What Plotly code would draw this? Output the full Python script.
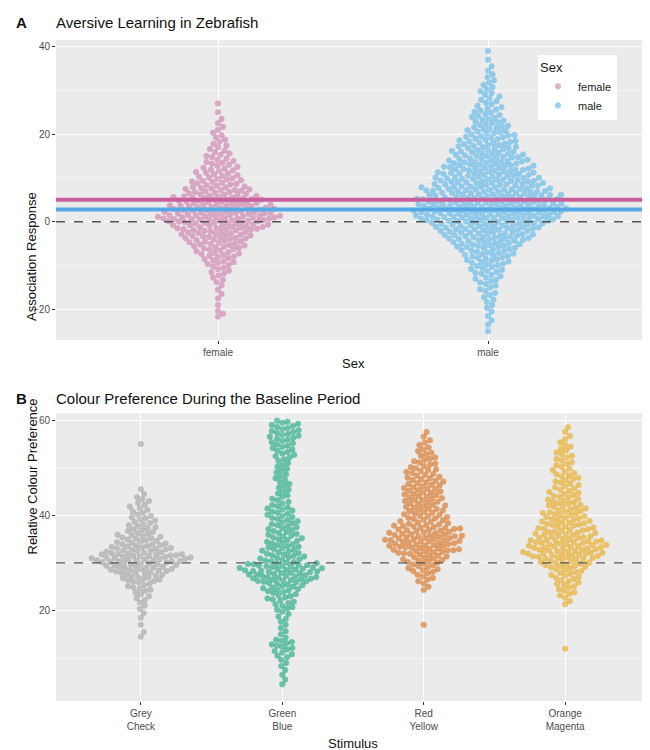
import plotly.graph_objects as go
import numpy as np

# ---- data (bin centre: count; bin width 2) ----
female_bins = [27,25,23,21,19,17,15,13,11,9,7,5,3,1,-1,-3,-5,-7,-9,-11,-13,-15,-17,-19,-21]
female_counts = [1,1,2,3,4,5,7,9,11,14,18,24,28,34,26,20,16,12,9,6,4,2,2,1,3]
male_bins = [39,37,35,33,31,29,27,25,23,21,19,17,15,13,11,9,7,5,3,1,-1,-3,-5,-7,-9,-11,-13,-15,-17,-19,-21,-23,-25]
male_counts = [1,1,2,3,4,5,6,8,10,12,15,17,20,24,27,30,34,38,42,40,30,25,20,15,12,9,7,5,4,3,2,2,1]
sex_means = {"female": 5.0, "male": 2.8}

stimuli = ["Grey<br>Check", "Green<br>Blue", "Red<br>Yellow", "Orange<br>Magenta"]
grey_bins = [55,45,43,41,39,37,35,33,31,29,27,25,23,21,19,17,15]
grey_counts = [1,2,5,6,8,10,14,20,30,22,14,8,5,3,2,1,2]
green_bins = [59,57,55,53,51,49,47,45,43,41,39,37,35,33,31,29,27,25,23,21,19,17,15,13,11,9,7,5]
green_counts = [9,10,8,7,5,5,5,5,6,9,9,10,11,12,14,24,22,13,9,7,4,3,3,8,6,3,2,2]
red_bins = [57,55,53,51,49,47,45,43,41,39,37,35,33,31,29,27,25,17]
red_counts = [2,4,6,8,10,12,13,13,13,14,20,24,22,14,10,6,3,1]
orange_bins = [58,56,54,52,50,48,46,44,42,40,38,36,34,32,30,28,26,24,22,12]
orange_counts = [2,3,5,6,6,8,8,10,12,14,16,18,24,24,16,10,8,6,3,1]

def expand(bins, counts, w=2.0):
    vals = []
    for b, c in zip(bins, counts):
        for i in range(c):
            vals.append(b - w/2 + (i + 0.5) * w / c if c > 1 else b)
    return np.array(vals)

def swarm(vals, ypx, xpx, d=5.6):
    order = np.argsort(vals)
    placed = []
    offs = np.zeros(len(vals))
    for idx in order:
        y = vals[idx] * ypx
        k = 0
        while True:
            cand = [0.0] if k == 0 else [k*0.5, -k*0.5]
            ok_c = None
            for c in cand:
                if all((c-px)**2 + (y-py)**2 >= d*d for px, py in placed if abs(y-py) < d):
                    ok_c = c; break
            if ok_c is not None:
                placed.append((ok_c, y)); offs[idx] = ok_c / xpx; break
            k += 1
    return offs

fig = go.Figure()
GRID = "white"; BG = "#EBEBEB"

colsA = {"female": "#CC79A7", "male": "#56B4E9"}
ypxA = 300/68.5; xpxA = 270.0
for i, (name, bins, counts) in enumerate([("female", female_bins, female_counts), ("male", male_bins, male_counts)]):
    v = expand(bins, counts)
    x = i + 1 + swarm(v, ypxA, xpxA)
    fig.add_trace(go.Scatter(x=x, y=v, mode="markers", name=name, xaxis="x", yaxis="y",
        marker=dict(size=5.5, color=colsA[name], opacity=0.6, line=dict(width=0.7, color=colsA[name]))))
for name in ["female", "male"]:
    fig.add_shape(type="line", xref="x domain", yref="y", x0=0, x1=1, y0=sex_means[name], y1=sex_means[name],
                  line=dict(color="#56A9E6" if name == "male" else "#C8609C", width=4))
fig.add_shape(type="line", xref="x domain", yref="y", x0=0, x1=1, y0=0, y1=0, line=dict(color="#555", width=1.3, dash="dash"))

colsB = ["#999999", "#009E73", "#D55E00", "#E69F00"]
ypxB = 288/60.5; xpxB = 148.0
for i, (bins, counts) in enumerate([(grey_bins, grey_counts), (green_bins, green_counts), (red_bins, red_counts), (orange_bins, orange_counts)]):
    v = expand(bins, counts)
    x = i + 1 + swarm(v, ypxB, xpxB)
    fig.add_trace(go.Scatter(x=x, y=v, mode="markers", showlegend=False, xaxis="x2", yaxis="y2",
        marker=dict(size=5.5, color=colsB[i], opacity=0.55, line=dict(width=0.7, color=colsB[i]))))
fig.add_shape(type="line", xref="x2 domain", yref="y2", x0=0, x1=1, y0=30, y1=30, line=dict(color="#555", width=1.3, dash="dash"))

ax = dict(showline=False, gridcolor=GRID, zeroline=False, ticks="outside", ticklen=3, tickcolor="#333",
          tickfont=dict(size=10, color="#4d4d4d"), automargin=False)
fig.update_layout(
    width=650, height=750, margin=dict(l=0, r=0, t=0, b=0),
    paper_bgcolor="white", plot_bgcolor=BG, font=dict(family="Liberation Sans, Arial", color="#222"),
    xaxis=dict(ax, domain=[48/650, 642/650], range=[0.4, 2.6], tickvals=[1, 2], ticktext=["female", "male"], anchor="y"),
    yaxis=dict(ax, domain=[1-332/750, 1-32/750], range=[-27, 41.5], tickvals=[-20, 0, 20, 40], anchor="x",
               minor=dict(tickvals=[-10, 10, 30], gridcolor="#F5F5F5", showgrid=True)),
    xaxis2=dict(ax, domain=[48/650, 642/650], range=[0.4, 4.6], tickvals=[1, 2, 3, 4], ticktext=stimuli, anchor="y2"),
    yaxis2=dict(ax, domain=[1-693/750, 1-405/750], range=[1, 61.5], tickvals=[20, 40, 60], anchor="x2",
                minor=dict(tickvals=[10, 30, 50], gridcolor="#F5F5F5", showgrid=True)),
    legend=dict(x=530/650, y=1-47/750, xanchor="left", yanchor="top", bgcolor="white",
                title=dict(text="Sex", font=dict(size=13)), font=dict(size=11), itemsizing="trace"),
)
ann = [
    dict(text="<b>A</b>", x=6/650, y=1-14/750, size=15),
    dict(text="Aversive Learning in Zebrafish", x=46/650, y=1-14/750, size=15),
    dict(text="<b>B</b>", x=6/650, y=1-390/750, size=15),
    dict(text="Colour Preference During the Baseline Period", x=46/650, y=1-390/750, size=15),
    dict(text="Sex", x=345/650, y=1-355/750, size=13, xa="center"),
    dict(text="Stimulus", x=345/650, y=1-735/750, size=13, xa="center"),
]
for a in ann:
    fig.add_annotation(text=a["text"], x=a["x"], y=a["y"], xref="paper", yref="paper", showarrow=False,
                       xanchor=a.get("xa", "left"), yanchor="middle", font=dict(size=a["size"], color="#111"))
fig.add_annotation(text="Association Response", x=14/650, y=1-182/750, xref="paper", yref="paper", showarrow=False,
                   textangle=-90, font=dict(size=13, color="#111"))
fig.add_annotation(text="Relative Colour Preference", x=14/650, y=1-549/750, xref="paper", yref="paper", showarrow=False,
                   textangle=-90, font=dict(size=13, color="#111"))
fig.write_html("out.html")
